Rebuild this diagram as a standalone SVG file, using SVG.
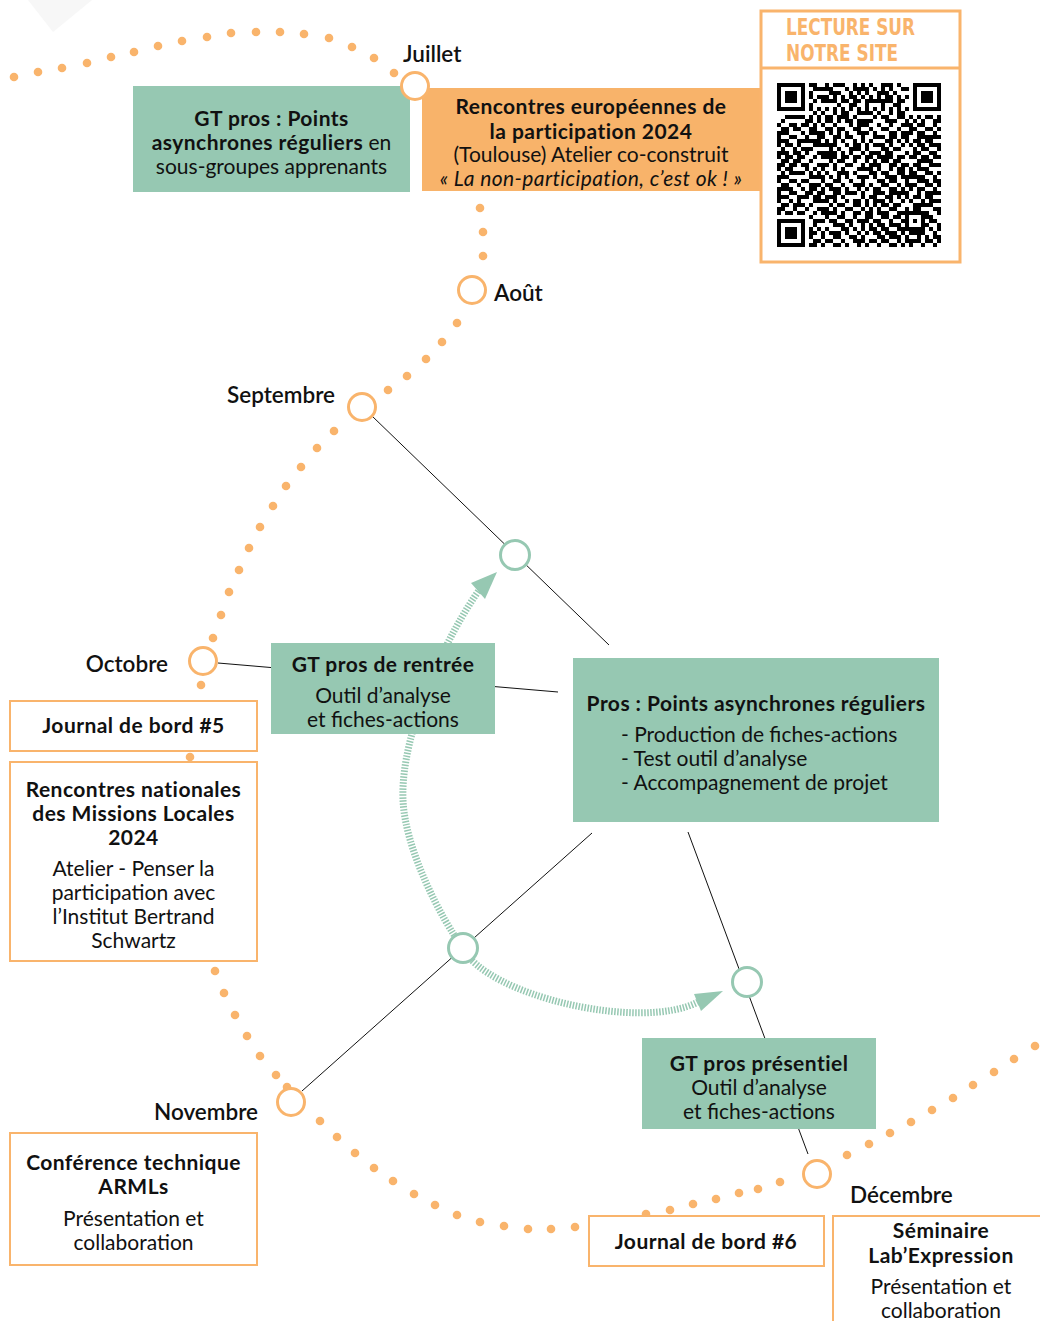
<svg xmlns="http://www.w3.org/2000/svg" width="1040" height="1321" viewBox="0 0 1040 1321">
<style>
text{font-family:Lato,"Noto Sans","Liberation Sans",sans-serif;fill:#111;}
.b{font-weight:bold;letter-spacing:0.45px;}
.i{font-style:italic;letter-spacing:0.4px;}
.t{font-size:21px;}
.c{text-anchor:middle;}
.e{text-anchor:end;}
.m{font-size:22.5px;font-weight:600;}
.dot{fill:#f9b46c;}
.oring{fill:#fff;stroke:#f9b46c;stroke-width:3;}
.tring{fill:#fff;stroke:#96c8b2;stroke-width:3;}
.line{stroke:#111;stroke-width:1;fill:none;}
.hatch{fill:none;stroke:#96c8b2;stroke-width:7;stroke-dasharray:1.5 1.5;}
.ah{fill:#96c8b2;}
.gbox{fill:#96c8b2;}
.obox{fill:#f8b36a;}
.frame{fill:#fff;stroke:#f9b46c;stroke-width:2;}
.qrt{font-family:"DejaVu Sans Condensed","DejaVu Sans",sans-serif;font-weight:bold;font-size:23px;fill:#f9b46c;}
</style>
<defs>
<pattern id="qa" patternUnits="userSpaceOnUse" x="777" y="83" width="28" height="28">
<path d="M0 0h4v4h-4zM8 0h4v4h-4zM12 4h4v4h-4zM20 4h4v4h-4zM4 8h4v4h-4zM24 8h4v4h-4zM0 12h4v4h-4zM16 12h4v4h-4zM8 16h4v4h-4zM20 16h8v4h-8zM4 20h4v4h-4zM0 24h4v4h-4zM12 24h8v4h-8z" fill="#000"/>
</pattern>
<pattern id="qb" patternUnits="userSpaceOnUse" x="777" y="83" width="44" height="44">
<path d="M4 0h4v4h-4zM16 0h8v4h-8zM32 0h4v4h-4zM0 4h4v4h-4zM8 4h4v4h-4zM24 4h4v4h-4zM36 4h8v4h-8zM12 8h8v4h-8zM28 8h4v4h-4zM4 12h4v4h-4zM20 12h4v4h-4zM32 12h4v4h-4zM40 12h4v4h-4zM0 16h4v4h-4zM8 16h8v4h-8zM24 16h4v4h-4zM36 16h4v4h-4zM16 20h4v4h-4zM28 20h8v4h-8zM4 24h8v4h-8zM20 24h4v4h-4zM40 24h4v4h-4zM0 28h4v4h-4zM12 28h4v4h-4zM24 28h4v4h-4zM36 28h4v4h-4zM8 32h4v4h-4zM16 32h8v4h-8zM32 32h4v4h-4zM4 36h4v4h-4zM24 36h8v4h-8zM40 36h4v4h-4zM0 40h4v4h-4zM12 40h4v4h-4zM36 40h4v4h-4z" fill="#000"/>
</pattern>
</defs>
<rect width="1040" height="1321" fill="#fff"/>
<polygon points="28,0 92,0 53,32" fill="#f7f7f7"/>

<g id="timeline">
<circle class="dot" cx="14" cy="77" r="4.3"/><circle class="dot" cx="38" cy="72" r="4.3"/><circle class="dot" cx="62" cy="68" r="4.3"/><circle class="dot" cx="87" cy="63" r="4.3"/><circle class="dot" cx="111" cy="57" r="4.3"/><circle class="dot" cx="134" cy="52" r="4.3"/><circle class="dot" cx="158" cy="46" r="4.3"/><circle class="dot" cx="182" cy="41" r="4.3"/><circle class="dot" cx="207" cy="37" r="4.3"/><circle class="dot" cx="231" cy="33" r="4.3"/><circle class="dot" cx="256" cy="32" r="4.3"/><circle class="dot" cx="280" cy="32" r="4.3"/><circle class="dot" cx="304" cy="34" r="4.3"/><circle class="dot" cx="329" cy="38" r="4.3"/><circle class="dot" cx="352" cy="47" r="4.3"/><circle class="dot" cx="374" cy="58" r="4.3"/><circle class="dot" cx="394" cy="73" r="4.3"/>
<circle class="dot" cx="480" cy="208" r="4.3"/><circle class="dot" cx="483" cy="232" r="4.3"/><circle class="dot" cx="483" cy="256" r="4.3"/>
<circle class="dot" cx="457" cy="323" r="4.3"/><circle class="dot" cx="442" cy="342" r="4.3"/><circle class="dot" cx="426" cy="359" r="4.3"/><circle class="dot" cx="407" cy="376" r="4.3"/><circle class="dot" cx="388" cy="390" r="4.3"/>
<circle class="dot" cx="334" cy="431" r="4.3"/><circle class="dot" cx="317" cy="448" r="4.3"/><circle class="dot" cx="301" cy="467" r="4.3"/><circle class="dot" cx="286" cy="486" r="4.3"/><circle class="dot" cx="273" cy="506" r="4.3"/><circle class="dot" cx="260" cy="527" r="4.3"/><circle class="dot" cx="249" cy="548" r="4.3"/><circle class="dot" cx="239" cy="570" r="4.3"/><circle class="dot" cx="229" cy="592" r="4.3"/><circle class="dot" cx="221" cy="615" r="4.3"/><circle class="dot" cx="213" cy="638" r="4.3"/>
<circle class="dot" cx="201" cy="685" r="4.3"/><circle class="dot" cx="190" cy="757" r="4.3"/>
<circle class="dot" cx="215" cy="971" r="4.3"/><circle class="dot" cx="224" cy="993" r="4.3"/><circle class="dot" cx="235" cy="1015" r="4.3"/><circle class="dot" cx="247" cy="1036" r="4.3"/><circle class="dot" cx="260" cy="1056" r="4.3"/><circle class="dot" cx="276" cy="1075" r="4.3"/><circle class="dot" cx="287" cy="1087" r="4.3"/>
<circle class="dot" cx="320" cy="1121" r="4.3"/><circle class="dot" cx="337" cy="1137" r="4.3"/><circle class="dot" cx="355" cy="1153" r="4.3"/><circle class="dot" cx="374" cy="1168" r="4.3"/><circle class="dot" cx="393" cy="1181" r="4.3"/><circle class="dot" cx="414" cy="1194" r="4.3"/><circle class="dot" cx="435" cy="1205" r="4.3"/><circle class="dot" cx="457" cy="1215" r="4.3"/><circle class="dot" cx="480" cy="1222" r="4.3"/><circle class="dot" cx="504" cy="1226" r="4.3"/><circle class="dot" cx="528" cy="1229" r="4.3"/><circle class="dot" cx="551" cy="1229" r="4.3"/><circle class="dot" cx="575" cy="1227" r="4.3"/>
<circle class="dot" cx="646" cy="1214" r="4.3"/><circle class="dot" cx="670" cy="1210" r="4.3"/><circle class="dot" cx="693" cy="1204" r="4.3"/><circle class="dot" cx="716" cy="1199" r="4.3"/><circle class="dot" cx="739" cy="1193" r="4.3"/><circle class="dot" cx="758" cy="1189" r="4.3"/><circle class="dot" cx="780" cy="1182" r="4.3"/>
<circle class="dot" cx="847" cy="1155" r="4.3"/><circle class="dot" cx="869" cy="1144" r="4.3"/><circle class="dot" cx="890" cy="1133" r="4.3"/><circle class="dot" cx="911" cy="1122" r="4.3"/><circle class="dot" cx="932" cy="1110" r="4.3"/><circle class="dot" cx="953" cy="1098" r="4.3"/><circle class="dot" cx="973" cy="1085" r="4.3"/><circle class="dot" cx="994" cy="1072" r="4.3"/><circle class="dot" cx="1014" cy="1059" r="4.3"/><circle class="dot" cx="1035" cy="1046" r="4.3"/>
</g>

<g id="connectors">
<line class="line" x1="372" y1="416" x2="609" y2="645"/>
<line class="line" x1="218" y1="663" x2="558" y2="692"/>
<line class="line" x1="302" y1="1091" x2="592" y2="833"/>
<line class="line" x1="688" y1="832" x2="808" y2="1154"/>
<path class="hatch" d="M480 589 C450 630 400 730 403 800 C405 850 442 920 463 948 C485 995 640 1032 698 1002"/>
<polygon class="ah" points="497,572 471,583 485,599"/>
<polygon class="ah" points="723,991 694,994 701,1011"/>
</g>

<g id="node-gt-async">
<rect class="gbox" x="133" y="86" width="277" height="106"/>
<text class="t c" x="271.5" y="126"><tspan class="b">GT pros : Points</tspan></text>
<text class="t c" x="271.5" y="150"><tspan class="b">asynchrones réguliers</tspan> en</text>
<text class="t c" x="271.5" y="174">sous-groupes apprenants</text>
</g>

<g id="node-rencontres-euro">
<rect class="obox" x="422" y="88" width="339" height="103"/>
<text class="t c b" x="591" y="114">Rencontres européennes de</text>
<text class="t c b" x="591" y="139">la participation 2024</text>
<text class="t c" x="591" y="162">(Toulouse) Atelier co-construit</text>
<text class="t c i" x="591" y="186">« La non-participation, c’est ok ! »</text>
</g>

<g id="node-qr">
<rect x="761" y="11" width="199" height="251" fill="#fff" stroke="#f9b46c" stroke-width="3"/>
<line x1="761" y1="68" x2="960" y2="68" stroke="#f9b46c" stroke-width="3"/>
<text class="qrt" x="786" y="35" textLength="129" lengthAdjust="spacingAndGlyphs">LECTURE SUR</text>
<text class="qrt" x="786" y="61" textLength="112" lengthAdjust="spacingAndGlyphs">NOTRE SITE</text>
<rect x="777" y="83" width="164" height="164" fill="url(#qa)"/>
<rect x="777" y="83" width="164" height="164" fill="url(#qb)"/>
<rect x="777" y="83" width="32" height="32" fill="#fff"/>
<rect x="909" y="83" width="32" height="32" fill="#fff"/>
<rect x="777" y="215" width="32" height="32" fill="#fff"/>
<rect x="809" y="107" width="100" height="4" fill="#fff"/>
<rect x="801" y="115" width="4" height="100" fill="#fff"/>
<line x1="809" y1="109" x2="909" y2="109" stroke="#000" stroke-width="4" stroke-dasharray="4 4"/>
<line x1="803" y1="115" x2="803" y2="215" stroke="#000" stroke-width="4" stroke-dasharray="4 4"/>
<path fill="#000" fill-rule="evenodd" d="M777 83h28v28h-28zM781 87v20h20v-20zM785 91h12v12h-12z M913 83h28v28h-28zM917 87v20h20v-20zM921 91h12v12h-12z M777 219h28v28h-28zM781 223v20h20v-20zM785 227h12v12h-12z"/>
<rect x="905" y="211" width="20" height="20" fill="#fff"/>
<path fill="#000" fill-rule="evenodd" d="M905 211h20v20h-20zM909 215v12h12v-12zM913 219h4v4h-4z"/>
</g>

<g id="node-gt-rentree">
<rect class="gbox" x="271" y="643" width="224" height="91"/>
<text class="t c b" x="383" y="672">GT pros de rentrée</text>
<text class="t c" x="383" y="703">Outil d’analyse</text>
<text class="t c" x="383" y="727">et fiches-actions</text>
</g>

<g id="node-pros-async">
<rect class="gbox" x="573" y="658" width="366" height="164"/>
<text class="t c b" x="756" y="711">Pros : Points asynchrones réguliers</text>
<text class="t" x="621" y="742">- Production de fiches-actions</text>
<text class="t" x="621" y="766">- Test outil d’analyse</text>
<text class="t" x="621" y="790">- Accompagnement de projet</text>
</g>

<g id="node-gt-presentiel">
<rect class="gbox" x="642" y="1038" width="234" height="91"/>
<text class="t c b" x="759" y="1071">GT pros présentiel</text>
<text class="t c" x="759" y="1095">Outil d’analyse</text>
<text class="t c" x="759" y="1119">et fiches-actions</text>
</g>

<g id="node-journal5">
<rect class="frame" x="10" y="701" width="247" height="50"/>
<text class="t c b" x="133.5" y="733">Journal de bord #5</text>
</g>

<g id="node-rencontres-nat">
<rect class="frame" x="10" y="762" width="247" height="199"/>
<text class="t c b" x="133.5" y="797">Rencontres nationales</text>
<text class="t c b" x="133.5" y="821">des Missions Locales</text>
<text class="t c b" x="133.5" y="845">2024</text>
<text class="t c" x="133.5" y="876">Atelier - Penser la</text>
<text class="t c" x="133.5" y="900">participation avec</text>
<text class="t c" x="133.5" y="924">l’Institut Bertrand</text>
<text class="t c" x="133.5" y="948">Schwartz</text>
</g>

<g id="node-conference">
<rect class="frame" x="10" y="1133" width="247" height="132"/>
<text class="t c b" x="133.5" y="1170">Conférence technique</text>
<text class="t c b" x="133.5" y="1194">ARMLs</text>
<text class="t c" x="133.5" y="1226">Présentation et</text>
<text class="t c" x="133.5" y="1250">collaboration</text>
</g>

<g id="node-journal6">
<rect class="frame" x="589" y="1216" width="235" height="50"/>
<text class="t c b" x="706" y="1249">Journal de bord #6</text>
</g>

<g id="node-seminaire">
<rect class="frame" x="833" y="1216" width="220" height="120"/>
<text class="t c b" x="941" y="1238">Séminaire</text>
<text class="t c b" x="941" y="1263">Lab’Expression</text>
<text class="t c" x="941" y="1294">Présentation et</text>
<text class="t c" x="941" y="1318">collaboration</text>
</g>

<g id="months">
<circle class="oring" cx="415" cy="86" r="13.5"/>
<text class="m" x="403" y="62">Juillet</text>
<circle class="oring" cx="472" cy="290" r="13.5"/>
<text class="m" x="494" y="301">Août</text>
<circle class="oring" cx="362" cy="407" r="13.5"/>
<text class="m e" x="335" y="403">Septembre</text>
<circle class="oring" cx="203" cy="661" r="13.5"/>
<text class="m e" x="168" y="672">Octobre</text>
<circle class="oring" cx="291" cy="1102" r="13.5"/>
<text class="m e" x="258" y="1120">Novembre</text>
<circle class="oring" cx="817" cy="1174" r="13.5"/>
<text class="m" x="850" y="1203">Décembre</text>
</g>

<g id="milestones">
<circle class="tring" cx="515" cy="555" r="14.5"/>
<circle class="tring" cx="463" cy="948" r="14.5"/>
<circle class="tring" cx="747" cy="982" r="14.5"/>
</g>
</svg>
